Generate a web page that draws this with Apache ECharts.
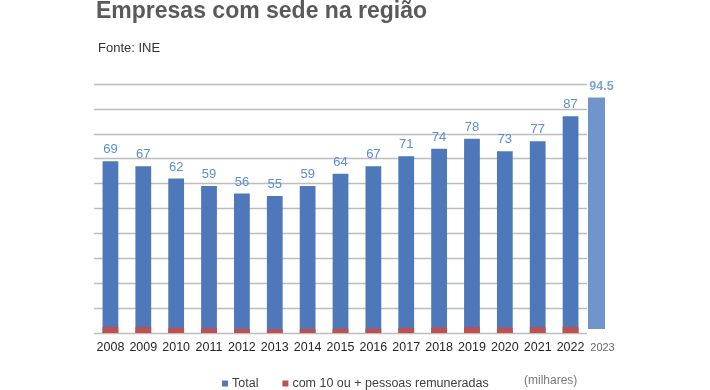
<!DOCTYPE html>
<html><head><meta charset="utf-8">
<script src="https://cdn.jsdelivr.net/npm/echarts@6/dist/echarts.min.js"></script>
<style>html,body{margin:0;padding:0;background:#fff}#c{width:710px;height:390px}</style>
</head><body><div id="c"></div>
<script>
const years = ['2008','2009','2010','2011','2012','2013','2014','2015','2016','2017','2018','2019','2020','2021','2022'];
const totals = [69,67,62,59,56,55,59,64,67,71,74,78,73,77,87];
const com10 = [2.4,2.3,2.0,1.9,1.6,1.5,1.6,1.7,1.8,2.0,2.2,2.3,2.1,2.3,2.4];
const extraYear = ['2023'];
const extraTotal = [94.5];
const yMin = 0, yMax = 100, yStep = 10;

const chart = echarts.init(document.getElementById('c'));
chart.setOption({
  animation: false,
  title: [
    {text: 'Empresas com sede na região', left: 91, top: -5,
     textStyle: {fontFamily: 'Liberation Sans', fontWeight: 'bold', fontSize: 23, color: '#5a5a5a'}},
    {text: 'Fonte: INE', left: 93, top: 37,
     textStyle: {fontFamily: 'Liberation Sans', fontWeight: 'normal', fontSize: 13, color: '#333'}},
    {text: '(milhares)', left: 519, top: 370,
     textStyle: {fontFamily: 'Liberation Sans', fontWeight: 'normal', fontSize: 12, color: '#7a7a7a'}}
  ],
  legend: {
    data: ['Total', 'com 10 ou + pessoas remuneradas'],
    left: 217, top: 372, icon: 'rect', itemWidth: 6, itemHeight: 6, itemGap: 24,
    textStyle: {fontFamily: 'Liberation Sans', fontSize: 12.5, color: '#404040', padding: [0,0,0,-1]}
  },
  grid: [
    {left: 94, right: 123, top: 84, bottom: 57},
    {left: 586, width: 21, top: 84, bottom: 61}
  ],
  xAxis: [
    {type: 'category', gridIndex: 0, data: years, axisLine: {show: false}, axisTick: {show: false},
     axisLabel: {fontFamily: 'Liberation Sans', fontSize: 12.5, color: '#262626', margin: 8, interval: 0}},
    {type: 'category', gridIndex: 1, data: extraYear, axisLine: {show: false}, axisTick: {show: false},
     axisLabel: {fontFamily: 'Liberation Sans', fontSize: 11, color: '#6a6a6a', margin: 13, padding: [0,0,0,12]}}
  ],
  yAxis: [
    {type: 'value', gridIndex: 0, min: yMin, max: yMax, interval: yStep,
     axisLabel: {show: false}, axisLine: {show: false}, axisTick: {show: false},
     splitLine: {lineStyle: {color: '#bdbdbd', width: 1.3}}},
    {type: 'value', gridIndex: 1, min: yMin, max: yMax, interval: yStep,
     axisLabel: {show: false}, axisLine: {show: false}, axisTick: {show: false}, splitLine: {show: false}}
  ],
  series: [
    {name: 'Total', type: 'bar', xAxisIndex: 0, yAxisIndex: 0, data: totals, barWidth: '48%',
     itemStyle: {color: '#4f78bb'},
     label: {show: true, position: 'top', distance: 5, fontFamily: 'Liberation Sans', fontSize: 13, color: '#5b8fd0'}},
    {name: 'com 10 ou + pessoas remuneradas', type: 'bar', xAxisIndex: 0, yAxisIndex: 0, data: com10,
     barWidth: '48%', barGap: '-100%', itemStyle: {color: '#c0504d'}},
    {name: '2023', type: 'bar', xAxisIndex: 1, yAxisIndex: 1, data: extraTotal, barWidth: 17,
     itemStyle: {color: '#6f95cb'},
     label: {show: true, position: 'top', distance: 4, offset: [5, 0], fontFamily: 'Liberation Sans', fontSize: 12.5, fontWeight: 'bold', color: '#7ea3d6'}}
  ]
});
</script></body></html>
